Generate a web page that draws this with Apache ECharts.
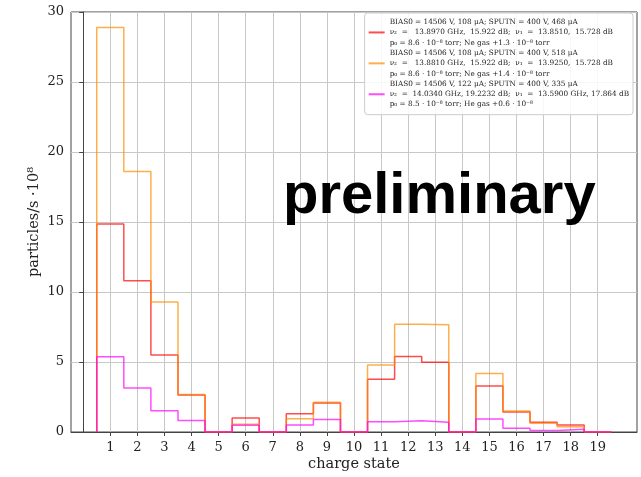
<!DOCTYPE html>
<html>
<head>
<meta charset="utf-8">
<script src="https://cdn.jsdelivr.net/npm/echarts@6/dist/echarts.min.js"></script>
<style>
  html, body { margin: 0; padding: 0; background: #fff; }
  #chart { width: 641px; height: 477px; }
</style>
</head>
<body>
<div id="chart"></div>
<script>
// charge states (bin centres), bins are 1 wide
const charges = [1, 2, 3, 4, 5, 6, 7, 8, 9, 10, 11, 12, 13, 14, 15, 16, 17, 18, 19];
// particles/s * 1e8 per charge state
const redVals = [14.85, 10.8, 5.5, 2.65, 0, 1.0, 0, 1.3, 2.07, 0, 3.76, 5.4, 4.98, 0, 3.28, 1.43, 0.69, 0.5, 0];
const orangeVals = [28.9, 18.6, 9.28, 2.67, 0, 0.55, 0, 0.95, 2.12, 0, 4.79, 7.7, 7.66, 0, 4.18, 1.5, 0.62, 0.38, 0];
const magentaVals = [5.38, 3.15, 1.52, 0.83, 0, 0.48, 0, 0.5, 0.9, 0, 0.74, 0.81, 0.7, 0, 0.93, 0.26, 0.1, 0.19, 0];
const yTicks = [0, 5, 10, 15, 20, 25, 30];

const legendNames = [
  "BIAS0 = 14506 V, 108 μA; SPUTN = 400 V, 468 μA\nν₂  =   13.8970 GHz,  15.922 dB;  ν₁  =  13.8510,  15.728 dB\np₀ = 8.6 · 10⁻⁸ torr; Ne gas +1.3 · 10⁻⁸ torr",
  "BIAS0 = 14506 V, 108 μA; SPUTN = 400 V, 518 μA\nν₂  =   13.8810 GHz,  15.922 dB;  ν₁  =  13.9250,  15.728 dB\np₀ = 8.6 · 10⁻⁸ torr; Ne gas +1.4 · 10⁻⁸ torr",
  "BIAS0 = 14506 V, 122 μA; SPUTN = 400 V, 335 μA\nν₂  =  14.0340 GHz, 19.2232 dB;  ν₁  =  13.5900 GHz, 17.864 dB\np₀ = 8.5 · 10⁻⁸ torr; He gas +0.6 · 10⁻⁸"
];

// step outline like a histtype='step' histogram
function stepPoints(vals) {
  const pts = [[charges[0] - 0.5, 0]];
  vals.forEach((v, i) => {
    pts.push([charges[i] - 0.5, v]);
    pts.push([charges[i] + 0.5, v]);
  });
  pts.push([charges[charges.length - 1] + 0.5, 0]);
  return pts;
}

const serif = "DejaVu Serif";
const colors = ["rgba(255,0,0,0.7)", "rgba(255,140,0,0.7)", "rgba(255,0,255,0.7)"];

const series = [redVals, orangeVals, magentaVals].map((vals, i) => ({
  name: legendNames[i],
  type: "line",
  data: stepPoints(vals),
  showSymbol: false,
  symbol: "none",
  lineStyle: { color: colors[i], width: 1.5 },
  itemStyle: { color: colors[i] },
  animation: false,
}));

const chart = echarts.init(document.getElementById("chart"));
chart.setOption({
  animation: false,
  grid: {
    left: 71, right: 4, top: 12, bottom: 45,
    outerBoundsMode: "none",
    containLabel: false,
    show: true, borderColor: "#444", borderWidth: 1,
  },
  legend: {
    right: 8, top: 13,
    orient: "vertical",
    padding: [4, 4, 5, 4],
    itemGap: 0,
    itemWidth: 16, itemHeight: 2,
    icon: "rect",
    backgroundColor: "rgba(255,255,255,0.85)",
    borderColor: "#ccc", borderWidth: 1, borderRadius: 3,
    textStyle: { fontFamily: serif, fontSize: 7.3, lineHeight: 10.3, color: "#222" },
    selectedMode: false,
  },
  xAxis: {
    type: "value",
    min: -0.45, max: 20.45,
    name: "charge state",
    nameLocation: "middle",
    nameGap: 25,
    nameMoveOverlap: false,
    nameTextStyle: { fontFamily: serif, fontSize: 14.5, color: "#222" },
    axisLine: { lineStyle: { color: "#444", width: 1 } },
    axisTick: { show: true, length: 4, customValues: charges, lineStyle: { color: "#444" } },
    axisLabel: { customValues: charges, fontFamily: serif, fontSize: 13, color: "#222", margin: 9 },
    splitLine: { show: true, lineStyle: { color: "#c8c8c8", width: 1 } },
  },
  yAxis: {
    type: "value",
    min: 0, max: 30, interval: 5,
    name: "particles/s ·10⁸",
    nameLocation: "middle",
    nameGap: 29,
    nameMoveOverlap: false,
    nameTextStyle: { fontFamily: serif, fontSize: 14.5, color: "#222" },
    axisLine: { show: true, lineStyle: { color: "#444", width: 1 } },
    axisTick: { show: true, length: 4, lineStyle: { color: "#444" } },
    axisLabel: { fontFamily: serif, fontSize: 13, color: "#222", margin: 7 },
    splitLine: { show: true, lineStyle: { color: "#c8c8c8", width: 1 } },
  },
  graphic: [{
    type: "text",
    left: 283, top: 168,
    z: 100,
    style: {
      text: "preliminary",
      fill: "#000",
      font: "bold 58px 'Liberation Sans', Arial, sans-serif",
    },
  }],
  series,
});
</script>
</body>
</html>
